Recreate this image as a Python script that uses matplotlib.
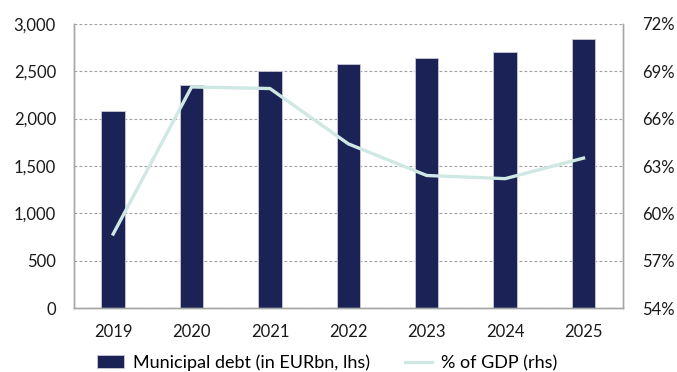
import matplotlib.pyplot as plt
from matplotlib.ticker import FuncFormatter

years = ['2019', '2020', '2021', '2022', '2023', '2024', '2025']
debt = [2075, 2350, 2500, 2570, 2635, 2698, 2838]
gdp_share = [58.7, 68.0, 67.9, 64.4, 62.4, 62.2, 63.5]

navy = '#1b2256'
teal = '#cfe8e3'
grey = '#a6a6a6'

plt.rcParams['font.family'] = ['Lato', 'DejaVu Sans']
plt.rcParams['font.size'] = 12

fig = plt.figure(figsize=(6.77, 3.72), dpi=100)
ax = fig.add_axes([0.1093, 0.1712, 0.8105, 0.7651])
x = range(len(years))

bars = ax.bar(x, debt, width=0.3, color=navy, edgecolor='#c8cad6', linewidth=0.6,
              label='Municipal debt (in EURbn, lhs)', zorder=2)
ax.set_ylim(0, 3000)
ax.set_xlim(-0.5, 6.5)
ax.set_yticks(range(0, 3001, 500))
ax.yaxis.set_major_formatter(FuncFormatter(lambda v, p: f'{int(v):,}'))
ax.set_xticks(list(x))
ax.set_xticklabels(years)
ax.grid(axis='y', color='#a0a0a0', linestyle=(0, (2.5, 2)), linewidth=0.8, zorder=0)
ax.set_axisbelow(True)
ax.tick_params(axis='x', length=0, pad=11, colors='#1a1a1a')
ax.tick_params(axis='y', length=0, pad=13, colors='#1a1a1a')

ax2 = ax.twinx()
line, = ax2.plot(x, gdp_share, color=teal, linewidth=2.4, label='% of GDP (rhs)', zorder=3)
ax2.set_ylim(54, 72)
ax2.set_yticks(range(54, 73, 3))
ax2.yaxis.set_major_formatter(FuncFormatter(lambda v, p: f'{int(v)}%'))
ax2.tick_params(length=0, pad=14, colors='#1a1a1a')

for a in (ax, ax2):
    a.spines['top'].set_visible(False)
    for s in ('left', 'right', 'bottom'):
        a.spines[s].set_color(grey)
        a.spines[s].set_linewidth(1.0)

fig.legend([bars, line], ['Municipal debt (in EURbn, lhs)', '% of GDP (rhs)'],
           loc='center', bbox_to_anchor=(0.483, 0.025), ncol=2, frameon=False,
           handlelength=1.5, handleheight=0.7, columnspacing=1.9, handletextpad=0.5,
           fontsize=13)

fig.savefig('out.png', dpi=100)
